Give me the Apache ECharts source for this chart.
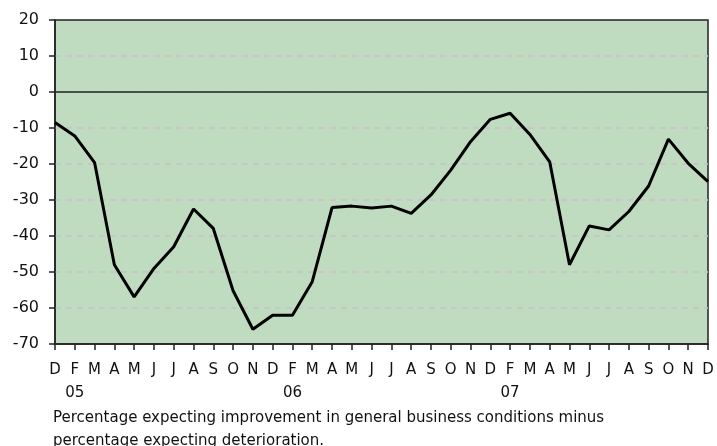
<!DOCTYPE html>
<html>
<head>
<meta charset="utf-8">
<script src="https://cdn.jsdelivr.net/npm/echarts@6/dist/echarts.min.js"></script>
<style>
html, body { margin: 0; padding: 0; background: #fff; }
#chart { width: 717px; height: 446px; }
</style>
</head>
<body>
<div id="chart"></div>
<script>
// month letters (no January in the series)
var months = ['D','F','M','A','M','J','J','A','S','O','N',
              'D','F','M','A','M','J','J','A','S','O','N',
              'D','F','M','A','M','J','J','A','S','O','N','D'];
var years = ['','05','','','','','','','','','',
             '','06','','','','','','','','','',
             '','07','','','','','','','','','',''];
var values = [-8.5, -12.2, -19.6, -48, -56.9, -49, -43, -32.5, -37.9, -55.2, -65.9,
              -62, -62, -52.7, -32.1, -31.7, -32.2, -31.7, -33.7, -28.6, -21.7, -13.8,
              -7.6, -5.9, -11.8, -19.4, -48, -37.2, -38.3, -33.2, -26.1, -13.1, -19.8, -24.9];
var yTicks = { min: -70, max: 20, step: 10 };
var caption = 'Percentage expecting improvement in general business conditions minus\npercentage expecting deterioration.';

var cats = months.map(function (m, i) { return i + ''; });

var myChart = echarts.init(document.getElementById('chart'));
myChart.setOption({
    animation: false,
    title: {
        text: caption,
        left: 53,
        top: 407,
        padding: 0,
        textStyle: {
            fontFamily: 'DejaVu Sans',
            fontSize: 15,
            fontWeight: 'normal',
            color: '#111',
            lineHeight: 23
        }
    },
    grid: {
        left: 55,
        right: 9,
        top: 20,
        bottom: 102,
        show: true,
        backgroundColor: '#c0dcc0',
        borderColor: '#222',
        borderWidth: 1.5
    },
    xAxis: {
        type: 'category',
        data: cats,
        boundaryGap: false,
        axisLine: { onZero: false, lineStyle: { color: '#222', width: 1.5 } },
        axisTick: { show: true, length: 6, interval: 0, lineStyle: { color: '#222', width: 1.5 } },
        axisLabel: {
            interval: 0,
            margin: 15,
            fontFamily: 'DejaVu Sans',
            fontSize: 15,
            color: '#111',
            lineHeight: 23,
            verticalAlign: 'top',
            formatter: function (v, i) {
                return months[i] + (years[i] ? '\n' + years[i] : '');
            }
        },
        splitLine: { show: false }
    },
    yAxis: {
        type: 'value',
        min: yTicks.min,
        max: yTicks.max,
        interval: yTicks.step,
        axisLine: { show: true, lineStyle: { color: '#222', width: 1.5 } },
        axisTick: { show: true, length: 6, lineStyle: { color: '#222', width: 1.5 } },
        axisLabel: {
            margin: 16,
            fontFamily: 'DejaVu Sans',
            fontSize: 16,
            color: '#111'
        },
        splitLine: {
            show: true,
            showMinLine: false,
            showMaxLine: false,
            lineStyle: { color: '#cbbfcb', width: 1.5, type: [6, 5] }
        }
    },
    series: [{
        type: 'line',
        data: values,
        symbol: 'none',
        lineStyle: { color: '#000', width: 3 },
        markLine: {
            silent: true,
            symbol: 'none',
            label: { show: false },
            lineStyle: { color: '#222', width: 1.5, type: 'solid' },
            data: [{ yAxis: 0 }]
        }
    }]
});
</script>
</body>
</html>
